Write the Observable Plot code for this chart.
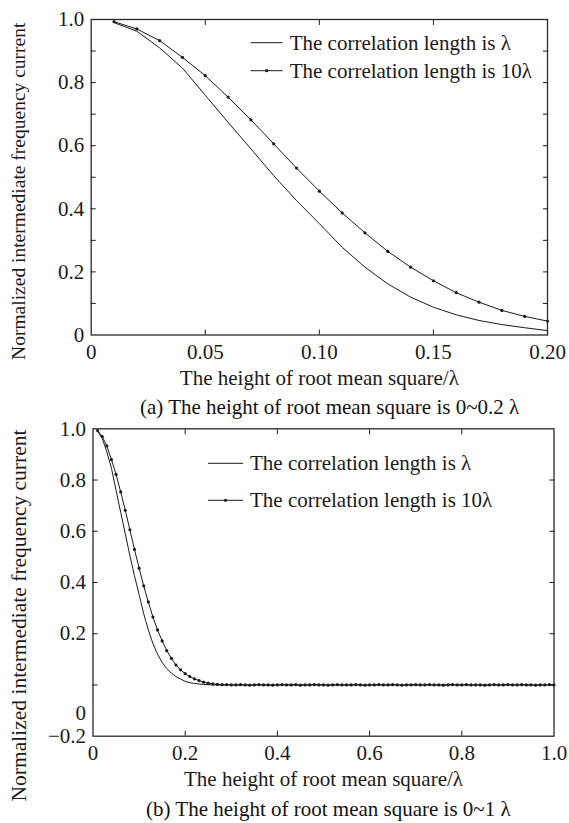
<!DOCTYPE html>
<html><head><meta charset="utf-8">
<script src="https://cdn.jsdelivr.net/npm/d3@7"></script>
<script src="https://cdn.jsdelivr.net/npm/@observablehq/plot@0.6"></script>
<style>
html,body{margin:0;padding:0;background:#fff;}
body{width:569px;height:823px;overflow:hidden;font-family:"Liberation Serif","Times New Roman",serif;color:#111;}
.cap{font-size:21px;white-space:nowrap;position:relative;}
svg{display:block;}
</style></head>
<body><div id="chart"></div>
<script>
// ---------- data ----------
const yLabel = "Normalized intermediate frequency current";
const xLabel = "The height of root mean square/λ";
const seriesNames = ["The correlation length is λ", "The correlation length is 10λ"];
const captionA = "(a) The height of root mean square is 0~0.2 λ";
const captionB = "(b) The height of root mean square is 0~1 λ";

// (a) 0 ~ 0.2 λ
const xA = [0.01,0.02,0.03,0.04,0.05,0.06,0.07,0.08,0.09,0.10,0.11,0.12,0.13,0.14,0.15,0.16,0.17,0.18,0.19,0.20];
const corr1A = [0.990,0.963,0.910,0.846,0.760,0.674,0.590,0.505,0.426,0.353,0.278,0.215,0.162,0.120,0.088,0.064,0.046,0.033,0.023,0.014];
const corr10A = [0.993,0.970,0.933,0.880,0.822,0.754,0.682,0.606,0.529,0.456,0.387,0.324,0.265,0.215,0.172,0.134,0.104,0.078,0.059,0.044];

// (b) 0 ~ 1 λ (first 20 points identical to (a))
const xB = [0.01,0.02,0.03,0.04,0.05,0.06,0.07,0.08,0.09,0.10,0.11,0.12,0.13,0.14,0.15,0.16,0.17,0.18,0.19,0.20,
  0.21,0.22,0.23,0.24,0.25,0.26,0.27,0.28,0.29,0.30,0.31,0.32,0.33,0.34,0.35,0.36,0.37,0.38,0.39,0.40,
  0.41,0.42,0.43,0.44,0.45,0.46,0.47,0.48,0.49,0.50,0.51,0.52,0.53,0.54,0.55,0.56,0.57,0.58,0.59,0.60,
  0.61,0.62,0.63,0.64,0.65,0.66,0.67,0.68,0.69,0.70,0.71,0.72,0.73,0.74,0.75,0.76,0.77,0.78,0.79,0.80,
  0.81,0.82,0.83,0.84,0.85,0.86,0.87,0.88,0.89,0.90,0.91,0.92,0.93,0.94,0.95,0.96,0.97,0.98,0.99,1.00];
const corr1Tail = [0.009,0.006,0.004,0.002,0.001,0.000,0.000,0.000,0.000,0.000,
  0,0,0,0,0,0,0,0,0,0, 0,0,0,0,0,0,0,0,0,0, 0,0,0,0,0,0,0,0,0,0,
  0,0,0,0,0,0,0,0,0,0, 0,0,0,0,0,0,0,0,0,0, 0,0,0,0,0,0,0,0,0,0, 0,0,0,0,0,0,0,0,0,0];
const corr10Tail = [0.033,0.024,0.017,0.011,0.007,0.004,0.002,0.001,0.001,0.000,
  0.000,0.001,0.000,-0.001,0.000,0.001,0.000,0.000,-0.001,0.000,
  0.001,0.000,0.000,0.001,-0.001,0.000,0.000,0.001,0.000,0.000,
  -0.001,0.000,0.001,0.000,0.000,0.000,0.001,0.000,-0.001,0.000,
  0.000,0.001,0.000,0.000,0.001,0.000,-0.001,0.000,0.000,0.001,
  0.000,0.000,0.001,0.000,0.000,-0.001,0.000,0.001,0.000,0.000,
  0.001,0.000,0.000,0.000,-0.001,0.000,0.001,0.000,0.000,0.001,
  0.000,0.000,0.001,0.000,0.000,-0.001,0.000,0.000,0.001,0.000];
const corr1B = corr1A.concat(corr1Tail);
const corr10B = corr10A.concat(corr10Tail);

// tick labels
const xTicksA = [0, 0.05, 0.10, 0.15, 0.20];
const xTickLabelsA = ["0", "0.05", "0.10", "0.15", "0.20"];
const yTicksA = [0, 0.2, 0.4, 0.6, 0.8, 1.0];
const yTickLabelsA = ["0", "0.2", "0.4", "0.6", "0.8", "1.0"];
const xMinorA = [0.05, 0.10, 0.15];
const yMinorA = [0.1, 0.2, 0.3, 0.4, 0.5, 0.6, 0.7, 0.8, 0.9];

const xTicksB = [0, 0.2, 0.4, 0.6, 0.8, 1.0];
const xTickLabelsB = ["0", "0.2", "0.4", "0.6", "0.8", "1.0"];
const yTicksB = [1.0, 0.8, 0.6, 0.4, 0.2, -0.11, -0.2];
const yTickLabelsB = ["1.0", "0.8", "0.6", "0.4", "0.2", "0", "\u22120.2"];
const xMinorB = [0.2, 0.4, 0.6, 0.8];
const yMinorB = [0, 0.2, 0.4, 0.6, 0.8];

// ---------- drawing ----------
const INK = "#1a1a1a";
const FS = 21;
function rows(xs, ys) { return xs.map((x, i) => ({x, y: ys[i]})); }

function legendMark(opt) {
  return (index, scales, values, dims) => {
    const g = d3.create("svg:g").attr("font-size", FS).attr("fill", INK).attr("text-anchor", "start");
    const x0 = dims.marginLeft + opt.dx, y0 = dims.marginTop + opt.dy;
    seriesNames.forEach((name, i) => {
      const y = y0 + i * opt.gap;
      g.append("line").attr("x1", x0).attr("x2", x0 + opt.len).attr("y1", y).attr("y2", y)
        .attr("stroke", INK).attr("stroke-width", 1);
      if (i === 1) g.append("circle").attr("cx", x0 + opt.len / 2).attr("cy", y).attr("r", 1.6).attr("fill", INK);
      g.append("text").attr("x", x0 + opt.len + 7).attr("y", y).attr("dy", "0.33em").text(name);
    });
    return g.node();
  };
}

function chart(cfg) {
  const lineData1 = rows(cfg.xs, cfg.s1);
  const lineData10 = rows(cfg.xs, cfg.s10);
  return Plot.plot({
    width: 569,
    height: cfg.height,
    marginLeft: cfg.ml, marginRight: cfg.mr, marginTop: cfg.mt, marginBottom: cfg.mb,
    style: {fontFamily: "'Liberation Serif','Times New Roman',serif", fontSize: FS + "px", color: INK, background: "#fff", overflow: "visible"},
    x: {domain: cfg.xDomain},
    y: {domain: cfg.yDomain},
    marks: [
      Plot.line(lineData1, {x: "x", y: "y", stroke: INK, strokeWidth: 1}),
      Plot.line(lineData10, {x: "x", y: "y", stroke: INK, strokeWidth: 1}),
      Plot.dot(lineData10, {x: "x", y: "y", r: 1.6, fill: INK, stroke: "none"}),
      Plot.frame({stroke: "#2a2a2a", strokeWidth: 1.3}),
      // inward ticks on all four sides
      Plot.axisX({anchor: "bottom", ticks: cfg.xMinor, tickSize: -5, fill: "none", stroke: INK, label: null}),
      Plot.axisX({anchor: "top", ticks: cfg.xMinor, tickSize: -5, fill: "none", stroke: INK, label: null}),
      Plot.axisY({anchor: "left", ticks: cfg.yMinor, tickSize: -5, fill: "none", stroke: INK, label: null}),
      Plot.axisY({anchor: "right", ticks: cfg.yMinor, tickSize: -5, fill: "none", stroke: INK, label: null}),
      // tick labels
      Plot.axisX({anchor: "bottom", ticks: cfg.xTicks, tickSize: 0, tickPadding: 9,
        tickFormat: d => cfg.xLabels[cfg.xTicks.indexOf(d)], fontSize: FS, label: null}),
      Plot.axisY({anchor: "left", ticks: cfg.yTicks, tickSize: 0, tickPadding: 7,
        tickFormat: d => cfg.yLabels[cfg.yTicks.indexOf(d)], fontSize: FS, label: null}),
      // axis titles
      Plot.text([xLabel], {frameAnchor: "bottom", dy: 43, lineAnchor: "middle", text: d => d, fontSize: FS, fill: INK}),
      Plot.text([yLabel], {frameAnchor: "left", dx: cfg.yLabelDx, dy: cfg.yLabelDy, textAnchor: "middle", lineAnchor: "middle",
        text: d => d, rotate: -90, fontSize: cfg.yLabelFs, fill: INK}),
      legendMark(cfg.legend)
    ]
  });
}

const root = document.getElementById("chart");
root.append(chart({
  height: 395, ml: 90.7, mr: 22, mt: 19, mb: 60.5,
  xs: xA, s1: corr1A, s10: corr10A,
  xDomain: [0, 0.2], yDomain: [0, 1],
  xTicks: xTicksA, xLabels: xTickLabelsA, yTicks: yTicksA, yLabels: yTickLabelsA,
  xMinor: xMinorA, yMinor: yMinorA, yLabelDx: -72, yLabelDy: 14, yLabelFs: 19.5,
  legend: {dx: 160, dy: 23.7, gap: 28, len: 32}
}));
const capA = document.createElement("div");
capA.className = "cap";
capA.style.cssText = "height:25px;line-height:25px;left:140px;";
capA.textContent = captionA;
root.append(capA);
root.append(chart({
  height: 376, ml: 92.5, mr: 15.5, mt: 8.3, mb: 60.3,
  xs: xB, s1: corr1B, s10: corr10B,
  xDomain: [0, 1], yDomain: [-0.2, 1],
  xTicks: xTicksB, xLabels: xTickLabelsB, yTicks: yTicksB, yLabels: yTickLabelsB,
  xMinor: xMinorB, yMinor: yMinorB, yLabelDx: -73.5, yLabelDy: 33, yLabelFs: 21.5,
  legend: {dx: 115.5, dy: 35, gap: 37, len: 35}
}));
const capB = document.createElement("div");
capB.className = "cap";
capB.style.cssText = "height:27px;line-height:27px;left:146px;";
capB.textContent = captionB;
root.append(capB);
</script>
</body></html>
